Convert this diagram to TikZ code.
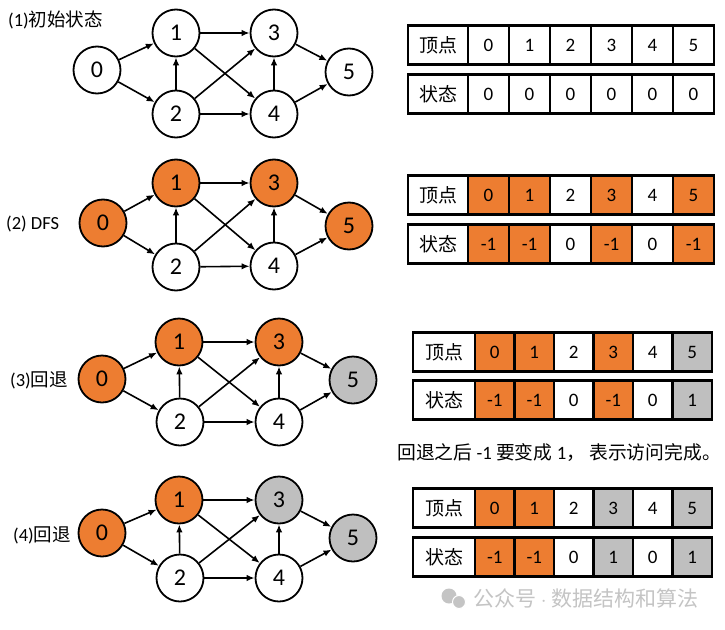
\documentclass[tikz,border=0pt]{standalone}
\usepackage{fontspec}
\setmainfont{Carlito}
\newfontfamily\cjk{Noto Sans CJK SC}
\usetikzlibrary{arrows.meta}
\definecolor{visitorange}{RGB}{237,125,49}
\definecolor{donegray}{RGB}{191,191,191}
\definecolor{markgray}{RGB}{196,196,196}
\tikzset{
  vtx/.style={circle,draw=black,line width=1.8pt,minimum size=47pt,inner sep=0pt,fill=white,
    font=\fontsize{24}{24}\selectfont},
  vtxo/.style={vtx,fill=visitorange},
  vtxg/.style={vtx,fill=donegray},
  dagedge/.style={-{Latex[length=8pt,width=6.5pt]},line width=1.6pt},
  tcell/.style={draw=black,line width=2.3pt,minimum height=39pt,inner sep=0pt,
    font=\fontsize{19}{19}\selectfont},
  steplabel/.style={anchor=west,inner sep=0pt,font=\fontsize{18.5}{18.5}\selectfont},
  notetext/.style={anchor=west,inner sep=0pt,font=\fontsize{18.8}{18.8}\selectfont}
}

\begin{document}
\begin{tikzpicture}[x=1pt,y=-1pt]
  \useasboundingbox[fill=white] (0,0) rectangle (725,629);

  % (1) initial state
  \node[steplabel] (lab1) at (8,20) {(1){\cjk 初始状态}};
  \node[vtx] (a0) at (97,70) {0};
  \node[vtx] (a1) at (176,33) {1};
  \node[vtx] (a2) at (176,114) {2};
  \node[vtx] (a3) at (274,33) {3};
  \node[vtx] (a4) at (274,114) {4};
  \node[vtx] (a5) at (349,72) {5};
  \foreach \s/\t in {0/1,0/2,1/3,1/4,2/1,2/3,2/4,4/3,3/5,4/5}
    \draw[dagedge] (a\s) -- (a\t);

  \node[tcell,minimum width=60pt] (t1v) at (438,45) {\cjk 顶点};
  \node[tcell,minimum width=60pt] (t1s) at (438,94) {\cjk 状态};
  \foreach \c/\s [count=\i from 0] in {white/0,white/0,white/0,white/0,white/0,white/0} {
    \node[tcell,minimum width=41pt,fill=\c] (t1v\i) at ({488.5+41*\i},45) {\i};
    \node[tcell,minimum width=41pt,fill=\c] (t1s\i) at ({488.5+41*\i},94) {\s};
  }

  % (2) DFS
  \node[steplabel] (lab2) at (6,224) {(2) DFS};
  \node[vtxo] (b0) at (103,223) {0};
  \node[vtxo] (b1) at (176,183) {1};
  \node[vtx] (b2) at (176,267) {2};
  \node[vtxo] (b3) at (274,183) {3};
  \node[vtx] (b4) at (274,266) {4};
  \node[vtxo] (b5) at (349,226) {5};
  \foreach \s/\t in {0/1,0/2,1/3,1/4,2/1,2/3,2/4,4/3,3/5,4/5}
    \draw[dagedge] (b\s) -- (b\t);

  \node[tcell,minimum width=60pt] (t2v) at (438,195) {\cjk 顶点};
  \node[tcell,minimum width=60pt] (t2s) at (438,244) {\cjk 状态};
  \foreach \c/\s [count=\i from 0] in {visitorange/-1,visitorange/-1,white/0,visitorange/-1,white/0,visitorange/-1} {
    \node[tcell,minimum width=41pt,fill=\c] (t2v\i) at ({488.5+41*\i},195) {\i};
    \node[tcell,minimum width=41pt,fill=\c] (t2s\i) at ({488.5+41*\i},244) {\s};
  }

  % (3) back from 5
  \node[steplabel] (lab3) at (10,380) {(3){\cjk 回退}};
  \node[vtxo] (c0) at (102,379) {0};
  \node[vtxo] (c1) at (179,342) {1};
  \node[vtx] (c2) at (180,422) {2};
  \node[vtxo] (c3) at (279,342) {3};
  \node[vtx] (c4) at (279,422) {4};
  \node[vtxg] (c5) at (353,380) {5};
  \foreach \s/\t in {0/1,0/2,1/3,1/4,2/1,2/3,2/4,4/3,3/5,4/5}
    \draw[dagedge] (c\s) -- (c\t);

  \node[tcell,minimum width=62pt] (t3v) at (444,352) {\cjk 顶点};
  \node[tcell,minimum width=62pt] (t3s) at (444,400) {\cjk 状态};
  \foreach \c/\s [count=\i from 0] in {visitorange/-1,visitorange/-1,white/0,visitorange/-1,white/0,donegray/1} {
    \node[tcell,minimum width=39.5pt,fill=\c] (t3v\i) at ({494.75+39.5*\i},352) {\i};
    \node[tcell,minimum width=39.5pt,fill=\c] (t3s\i) at ({494.75+39.5*\i},400) {\s};
  }
  \node[notetext] (note) at (397,453) {{\cjk 回退之后} -1 {\cjk 要变成} 1{\cjk ，\ 表示访问完成。}};

  % (4) back from 3
  \node[steplabel] (lab4) at (13,535) {(4){\cjk 回退}};
  \node[vtxo] (d0) at (102,533) {0};
  \node[vtxo] (d1) at (179,500) {1};
  \node[vtx] (d2) at (180,578) {2};
  \node[vtxg] (d3) at (279,500) {3};
  \node[vtx] (d4) at (279,578) {4};
  \node[vtxg] (d5) at (353,538) {5};
  \foreach \s/\t in {0/1,0/2,1/3,1/4,2/1,2/3,2/4,4/3,3/5,4/5}
    \draw[dagedge] (d\s) -- (d\t);

  \node[tcell,minimum width=62pt] (t4v) at (444,508) {\cjk 顶点};
  \node[tcell,minimum width=62pt] (t4s) at (444,557) {\cjk 状态};
  \foreach \c/\s [count=\i from 0] in {visitorange/-1,visitorange/-1,white/0,donegray/1,white/0,donegray/1} {
    \node[tcell,minimum width=39.5pt,fill=\c] (t4v\i) at ({494.75+39.5*\i},508) {\i};
    \node[tcell,minimum width=39.5pt,fill=\c] (t4s\i) at ({494.75+39.5*\i},557) {\s};
  }

  % watermark
  \fill[markgray] (449,596) circle (7.5);
  \fill[markgray,draw=white,line width=1pt] (459,602) circle (6.5);
  \node[notetext,text=markgray,font=\fontsize{21}{21}\selectfont] (mark) at (473,598)
    {{\cjk 公众号} $\cdot$ {\cjk 数据结构和算法}};
\end{tikzpicture}
\end{document}
